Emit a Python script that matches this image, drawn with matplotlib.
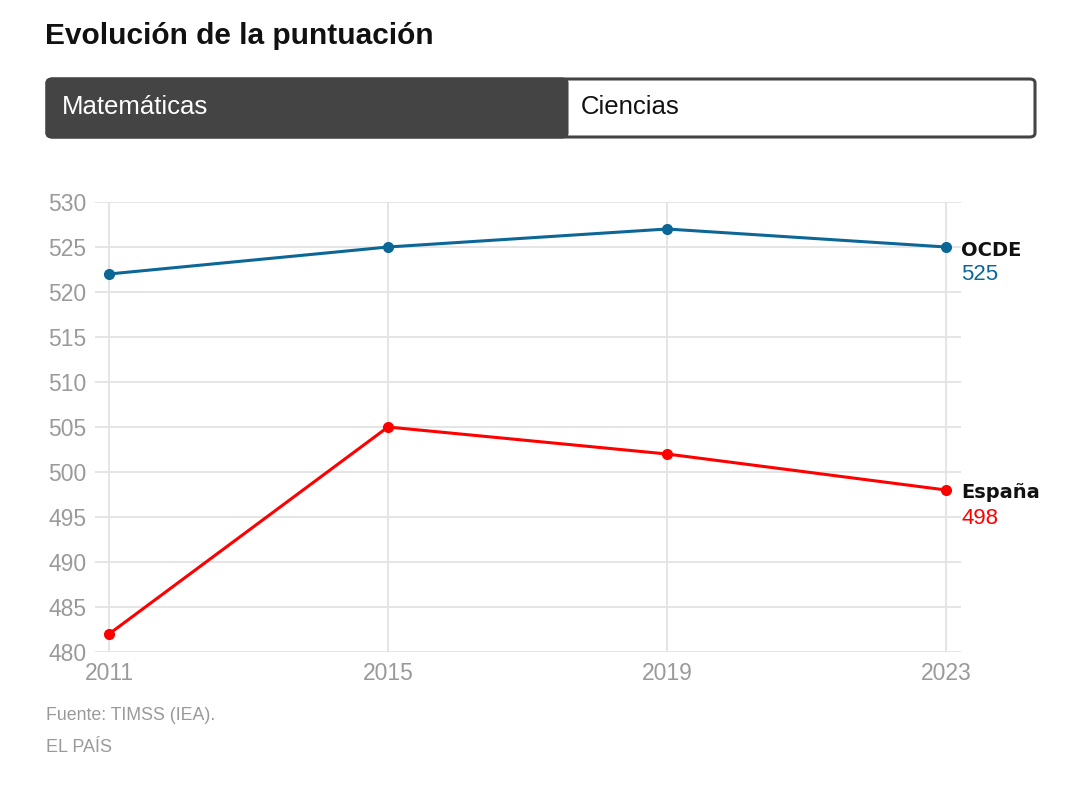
import matplotlib.pyplot as plt
from matplotlib.patches import FancyBboxPatch, Rectangle
import numpy as np

plt.rcParams['font.family'] = ['Liberation Sans', 'DejaVu Sans']

years = [2011, 2015, 2019, 2023]
ocde = [522, 525, 527, 525]
espana = [482, 505, 502, 498]
yticks = [480, 485, 490, 495, 500, 505, 510, 515, 520, 525, 530]

blue = '#0c6797'
red = '#ff0000'
grey_txt = '#9a9a9a'
grid_c = '#e3e3e3'

W, H = 1074, 794
fig = plt.figure(figsize=(W / 100, H / 100), dpi=100)

def fx(px):
    return px / W

def fy(py):
    return 1 - py / H

# title
fig.text(fx(45), fy(36), 'Evolución de la puntuación', fontsize=21.5,
         fontweight='bold', color='#111111', va='center', ha='left')

# tab selector
tab = FancyBboxPatch((fx(47), fy(137)), fx(1035) - fx(47), fy(79) - fy(137),
                     boxstyle='round,pad=0,rounding_size=0.005', transform=fig.transFigure,
                     facecolor='white', edgecolor='#444444', linewidth=2.2)
fig.patches.append(tab)
dark = FancyBboxPatch((fx(47), fy(137)), fx(567) - fx(47), fy(79) - fy(137),
                      boxstyle='round,pad=0,rounding_size=0.005', transform=fig.transFigure,
                      facecolor='#444444', edgecolor='#444444', linewidth=2.2)
fig.patches.append(dark)
fig.patches.append(Rectangle((fx(540), fy(137)), fx(567) - fx(540), fy(79) - fy(137),
                             transform=fig.transFigure, facecolor='#444444', edgecolor='none'))
fig.text(fx(62), fy(107), 'Matemáticas', fontsize=18.5, color='white', va='center', ha='left')
fig.text(fx(581), fy(107), 'Ciencias', fontsize=18.5, color='#111111', va='center', ha='left')

# main axes
x0, x1 = 95, 961
y_top, y_bot = 202, 652
ax = fig.add_axes([fx(x0), fy(y_bot), fx(x1) - fx(x0), fy(y_top) - fy(y_bot)])
ppy = (946 - 109) / 12.0
ax.set_xlim(2011 - (109 - x0) / ppy, 2023 + (x1 - 946) / ppy)
ax.set_ylim(480, 530)
for s in ax.spines.values():
    s.set_visible(False)
ax.set_yticks(yticks)
ax.set_xticks(years)
ax.grid(True, color=grid_c, linewidth=1.3)
ax.set_axisbelow(True)
ax.tick_params(length=0, labelsize=16.5, colors=grey_txt, pad=6)
ax.tick_params(axis='x', pad=7)

ax.plot(years, ocde, color=blue, lw=2.2, marker='o', ms=7, clip_on=False, zorder=3)
ax.plot(years, espana, color=red, lw=2.2, marker='o', ms=7, clip_on=False, zorder=3)

# end labels
ax.annotate('OCDE', (years[-1], ocde[-1]), xytext=(15, -3), textcoords='offset pixels',
            fontsize=14, fontweight='heavy', family='DejaVu Sans', color='#111111',
            va='center', ha='left', annotation_clip=False)
ax.annotate(str(ocde[-1]), (years[-1], ocde[-1]), xytext=(15, -28), textcoords='offset pixels',
            fontsize=16, color=blue, va='center', ha='left', annotation_clip=False)
ax.annotate('España', (years[-1], espana[-1]), xytext=(15, -2), textcoords='offset pixels',
            fontsize=14, fontweight='heavy', family='DejaVu Sans', color='#111111',
            va='center', ha='left', annotation_clip=False)
ax.annotate(str(espana[-1]), (years[-1], espana[-1]), xytext=(15, -28), textcoords='offset pixels',
            fontsize=16, color=red, va='center', ha='left', annotation_clip=False)

# footer
fig.text(fx(46), fy(716), 'Fuente: TIMSS (IEA).', fontsize=12.8, color=grey_txt, va='center', ha='left')
fig.text(fx(46), fy(748), 'EL PAÍS', fontsize=13, color=grey_txt, va='center', ha='left')

fig.savefig('out.png', dpi=100)
